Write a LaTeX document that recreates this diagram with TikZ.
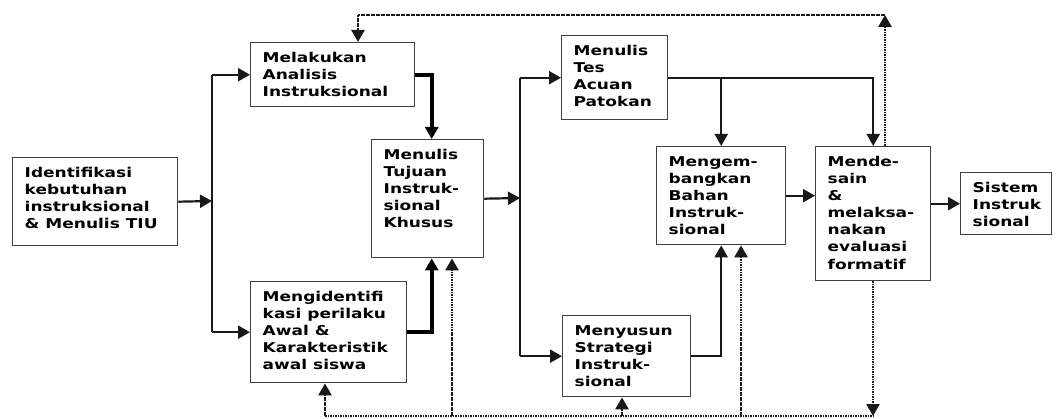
\documentclass[tikz,border=0pt]{standalone}
\usepackage{fontspec}
\setmainfont{DejaVu Sans}[FakeStretch=1.26]
\usetikzlibrary{arrows.meta,calc}
\tikzset{
  box/.style={draw=black!75, line width=1.4pt, inner sep=0pt, anchor=north west},
  txt/.style={anchor=north west, inner sep=0pt, align=left, font=\fontsize{13.5}{17.1}\selectfont\bfseries},
  conn/.style={line width=2.2pt, draw=black!90},
  thickc/.style={line width=4pt, draw=black},
  dotc/.style={line width=2.6pt, draw=black!90, dash pattern=on 1.6pt off 0.9pt},
  arr/.style={-{Triangle[length=12pt,width=13pt]}}
}
\newcommand\mkbox[6]{%
  \node[box, minimum width=#4pt, minimum height=#5pt] (#1) at (#2,#3) {};
  \node[txt] (#1t) at ([shift={(12.5pt,-10pt)}]#1.north west) {#6};
}
\begin{document}
\begin{tikzpicture}[x=1pt,y=-1pt]
\useasboundingbox (0,0) rectangle (1057,419);
\mkbox{b1}{12}{157}{165}{88}{Identifikasi\\kebutuhan\\instruksional\\\& Menulis TIU}
\mkbox{b2}{250}{42}{164}{64}{Melakukan\\Analisis\\Instruksional}
\mkbox{b3}{371}{139}{112}{118}{Menulis\\Tujuan\\Instruk-\\sional\\Khusus}
\mkbox{b4}{250}{281}{156}{101}{Mengidentifi\\kasi perilaku\\Awal \&\\Karakteristik\\awal siswa}
\mkbox{b5}{561}{35}{106}{84}{Menulis\\Tes\\Acuan\\Patokan}
\mkbox{b6}{656}{146}{129}{98}{Mengem-\\bangkan\\Bahan\\Instruk-\\sional}
\mkbox{b7}{815}{146}{115}{134}{Mende-\\sain\\\&\\melaksa-\\nakan\\evaluasi\\formatif}
\mkbox{b8}{960}{172}{91}{62}{Sistem\\Instruk\\sional}
\mkbox{b9}{562}{315}{128}{81}{Menyusun\\Strategi\\Instruk-\\sional}

% left fork
\coordinate (j1) at (212,201);
\coordinate (j1a) at (j1 |- b2.west);
\coordinate (j1b) at (j1 |- b4.west);
\draw[conn,arr] (b1.east) -- (j1);
\draw[conn] (j1a) -- (j1b);
\draw[conn,arr] (j1a) -- (b2.west);
\draw[conn,arr] (j1b) -- (b4.west);

% into TIK
\draw[thickc,arr] (b2.east) -| ($(b3.north)+(4,0)$);
\draw[thickc,arr] (b4.east) -| ($(b3.south)+(4,0)$);

% second fork
\coordinate (j2) at (520,198);
\coordinate (j2a) at (j2 |- b5.west);
\coordinate (j2b) at (j2 |- b9.west);
\draw[conn,arr] (b3.east) -- (j2);
\draw[conn] (j2a) -- (j2b);
\draw[conn,arr] (j2a) -- (b5.west);
\draw[conn,arr] (j2b) -- (b9.west);

% tes acuan
\draw[conn,arr] (b5.east) -| (b7.north);
\coordinate (j3) at (b6.north |- b5.east);
\draw[conn,arr] (j3) -- (b6.north);
\draw[conn,arr] (b9.east) -| (b6.south);
\draw[conn,arr] (b6.east) -- (b6.east -| b7.west);
\draw[conn,arr] (b8.west -| b7.east) -- (b8.west);

% top feedback
\coordinate (t1) at (885,15);
\coordinate (t2) at (358,15);
\draw[dotc,arr] (t1 |- b7.north) -- (t1);
\draw[dotc,arr] (t1) -- (t2) -- (t2 |- b2.north);

% bottom feedback
\coordinate (bb) at (873,416);
\coordinate (bl) at (325,416);
\coordinate (bq) at (452,416);
\coordinate (bs) at (622,416);
\coordinate (br) at (741,416);
\draw[dotc,arr] (bb |- b7.south) -- (bb);
\draw[dotc] (bl) -- (bb);
\draw[dotc,arr] (bl) -- (bl |- b4.south);
\draw[dotc,arr] (bq) -- (bq |- b3.south);
\draw[dotc,arr] (bs) -- (bs |- b9.south);
\draw[dotc,arr] (br) -- (br |- b6.south);
\end{tikzpicture}
\end{document}
